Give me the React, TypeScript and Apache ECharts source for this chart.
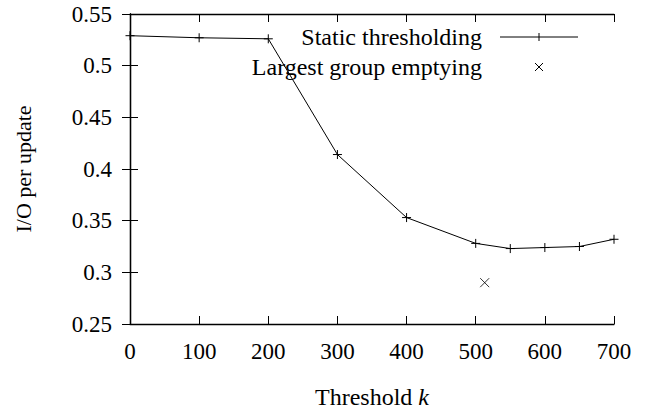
import React, { useEffect, useRef } from "react";
import * as echarts from "echarts";

const thresholds = [0, 100, 200, 300, 400, 500, 550, 600, 650, 700];
const staticIO = [0.529, 0.527, 0.526, 0.414, 0.353, 0.328, 0.323, 0.324, 0.325, 0.332];
const emptyingPoint = [[513, 0.29]];
const seriesNames = ["Static thresholding", "Largest group emptying"];

const PLUS = "path://M0,5L10,5M5,0L5,10";
const CROSS = "path://M0,0L10,10M10,0L0,10";
const FONT = "Liberation Serif";
const FS = 23;

export default function App() {
  const ref = useRef<HTMLDivElement>(null);
  useEffect(() => {
    if (!ref.current) return;
    const chart = echarts.init(ref.current, undefined, { renderer: "svg" });
    const axisCommon = {
      axisLine: { show: true, lineStyle: { color: "#000", width: 1.3 } },
      axisTick: { show: true, inside: true, length: 8, lineStyle: { color: "#000", width: 1 } },
      splitLine: { show: false },
    };
    const stroke = { stroke: "#000", lineWidth: 1 };
    const legendTextStyle = {
      fontFamily: FONT,
      fontSize: 24,
      fill: "#000",
      align: "right",
      verticalAlign: "middle",
    };
    chart.setOption({
      animation: false,
      textStyle: { fontFamily: FONT },
      grid: { left: 130, right: 40, top: 14, bottom: 85, show: false },
      graphic: [
        { type: "text", x: 482, y: 37, style: { ...legendTextStyle, text: seriesNames[0] } },
        { type: "line", shape: { x1: 500, y1: 37, x2: 578, y2: 37 }, style: stroke },
        { type: "line", shape: { x1: 539, y1: 33, x2: 539, y2: 41 }, style: stroke },
        { type: "text", x: 482, y: 67, style: { ...legendTextStyle, text: seriesNames[1] } },
        { type: "line", shape: { x1: 535, y1: 63, x2: 543, y2: 71 }, style: stroke },
        { type: "line", shape: { x1: 543, y1: 63, x2: 535, y2: 71 }, style: stroke },
      ],
      xAxis: [
        {
          type: "value",
          min: 0,
          max: 700,
          interval: 100,
          position: "bottom",
          ...axisCommon,
          axisLabel: { fontFamily: FONT, fontSize: FS, color: "#000", margin: 16 },
          name: "Threshold {i|k}",
          nameLocation: "middle",
          nameGap: 61,
          nameTextStyle: {
            fontFamily: FONT,
            fontSize: 24,
            color: "#000",
            rich: { i: { fontFamily: FONT, fontSize: 24, fontStyle: "italic", color: "#000" } },
          },
        },
        {
          type: "value",
          min: 0,
          max: 700,
          interval: 100,
          position: "top",
          ...axisCommon,
          axisLabel: { show: false },
        },
      ],
      yAxis: [
        {
          type: "value",
          min: 0.25,
          max: 0.55,
          interval: 0.05,
          position: "left",
          ...axisCommon,
          axisLabel: { fontFamily: FONT, fontSize: FS, color: "#000", margin: 18 },
          name: "I/O per update",
          nameLocation: "middle",
          nameGap: 96,
          nameTextStyle: { fontFamily: FONT, fontSize: 22, color: "#000" },
        },
        {
          type: "value",
          min: 0.25,
          max: 0.55,
          interval: 0.05,
          position: "right",
          ...axisCommon,
          axisLabel: { show: false },
        },
      ],
      series: [
        {
          name: seriesNames[0],
          type: "line",
          data: thresholds.map((t, i) => [t, staticIO[i]]),
          symbol: PLUS,
          symbolSize: 9,
          showAllSymbol: true,
          lineStyle: { color: "#000", width: 1 },
          itemStyle: { color: "none", borderColor: "#000", borderWidth: 1 },
        },
        {
          name: seriesNames[1],
          type: "scatter",
          data: emptyingPoint,
          symbol: CROSS,
          symbolSize: 9,
          itemStyle: { color: "none", borderColor: "#000", borderWidth: 1 },
        },
      ],
    });
    return () => chart.dispose();
  }, []);
  return (
    <div
      ref={ref}
      style={{ position: "fixed", left: 0, top: 0, width: 654, height: 414, background: "#fff" }}
    />
  );
}
